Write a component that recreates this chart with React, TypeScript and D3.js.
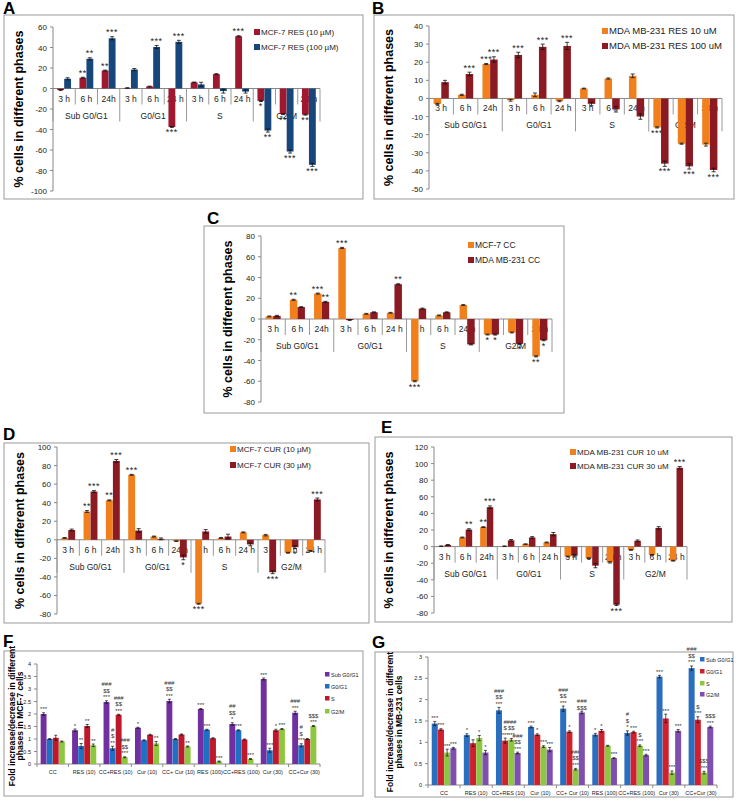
import React from "react";
import * as d3 from "d3";

// panels A-E: 4 phases x 3 time points, two treatments each
const phases = ["Sub G0/G1", "G0/G1", "S", "G2/M"];
const times = ["3 h", "6 h", "24h", "3 h", "6 h", "24 h", "3 h", "6 h", "24 h", "3 h", "6 h", "24 h"];

// A - MCF-7 resveratrol
const aRes10 = [-1.5, 10.5, 17.5, 0.5, 2, -37.5, 6, 14, 51, -12, -25, -25.5];
const aRes100 = [9.5, 29, 49, 18.5, 40.5, 45.5, 4, -2.5, -3, -41, -61.5, -74.5];
const aErr10 = [0.5, 0.5, 0.5, 0.3, 0.3, 0.5, 0.3, 0.5, 0.5, 0.5, 0.5, 0.5];
const aErr100 = [1, 1, 1.5, 1, 1.5, 1.5, 2, 2, 1.5, 1.5, 1.5, 1.5];
const aStars10 = ["", "**", "**", "", "", "***", "", "", "***", "*", "**", "**"];
const aStars100 = ["", "**", "***", "", "***", "***", "", "", "", "**", "***", "***"];

// B - MDA MB-231 resveratrol
const bRes10 = [-3, 2, 19, -1, 2, -1.5, 5.5, 11, 12.5, -16, -25, -25.5];
const bRes100 = [9, 13.5, 21.5, 24, 28.5, 29, -3, -6, -10, -36, -37.5, -39.5];
const bErr10 = [0.3, 0.3, 0.3, 0.5, 1, 0.3, 0.2, 0.3, 1, 0.3, 0.3, 0.8];
const bErr100 = [1, 1, 1.5, 1.5, 1.5, 2, 1, 1.5, 1.5, 1.5, 1.5, 1];
const bStars10 = ["", "", "***", "", "", "", "", "", "", "***", "", ""];
const bStars100 = ["", "***", "***", "***", "***", "***", "", "", "", "***", "***", "***"];

// C - cell-cycle controls
const cMcf = [2.5, 18.5, 24.5, 68.5, 5, 6, -60, 3.5, 13.5, -15, -13, -36];
const cMda = [3, 11.5, 16.5, -1, 6.5, 33.5, 10, 6.5, -24.5, -15, -24, -20.5];
const cErrMcf = [0.4, 0.5, 0.5, 0.5, 0.4, 0.4, 0.5, 0.4, 0.4, 0.4, 0.4, 0.5];
const cErrMda = [0.5, 0.4, 0.5, 0.4, 0.4, 0.5, 0.5, 0.4, 0.5, 0.5, 0.5, 0.5];
const cStarsMcf = ["", "**", "***", "***", "", "", "***", "", "", "*", "", "**"];
const cStarsMda = ["", "", "**", "", "", "**", "", "", "", "*", "*", "*"];

// D - MCF-7 curcumin
const dCur10 = [2, 30.5, 42.5, 70, 3.5, -1.5, -69, 2, 8, 5, -14, -12];
const dCur30 = [10.5, 52, 85, 10, 1, -19, 9, 3.5, -5, -35, -8, 43.5];
const dErr10 = [0.5, 1, 0.5, 0.5, 0.5, 0.3, 0.5, 0.5, 0.5, 0.8, 0.5, 0.5];
const dErr30 = [1, 1, 1.5, 2, 1, 2.5, 2, 2.5, 1.5, 1.5, 1.5, 1.5];
const dStars10 = ["", "**", "**", "***", "", "", "***", "", "", "", "", ""];
const dStars30 = ["", "***", "***", "", "", "*", "", "", "", "***", "*", "***"];

// E - MDA MB-231 curcumin
const eCur10 = [0.5, 11, 23.5, 0.5, 3, 5, -12, -14, -19, -4, -10, -17];
const eCur30 = [2, 20.5, 47.5, 7.5, 11, 15, -11, -23, -70, 7, 22.5, 95];
const eErr10 = [0.3, 0.5, 0.5, 0.3, 0.3, 0.5, 0.5, 0.5, 0.8, 0.5, 0.5, 0.5];
const eErr30 = [0.5, 1, 1.5, 1, 1, 2, 1.5, 2.5, 1, 1, 1.5, 1.5];
const eStars10 = ["", "", "**", "", "", "", "", "", "", "", "", ""];
const eStars30 = ["", "**", "***", "", "", "", "", "", "***", "", "", "***"];

// F, G - fold change
const treatments = ["CC", "RES (10)", "CC+RES (10)", "Cur (10)", "CC+ Cur (10)", "RES (100)", "CC+RES (100)", "Cur (30)", "CC+Cur (30)"];
const foldSeries = ["Sub G0/G1", "G0/G1", "S", "G2/M"];

const fSub = [2.0, 1.35, 2.48, 1.45, 2.52, 2.2, 1.6, 3.4, 2.05];
const fG0 = [1.0, 0.72, 0.63, 0.95, 1.0, 1.37, 1.35, 0.55, 0.75];
const fS = [1.05, 1.52, 1.97, 1.17, 1.18, 1.03, 0.98, 1.35, 1.0];
const fG2 = [0.9, 0.75, 0.27, 0.82, 0.7, 0.1, 0.2, 1.4, 1.52];
const fErrSub = [0.05, 0.05, 0.05, 0.02, 0.07, 0.02, 0.05, 0.04, 0.06];
const fErrG0 = [0.02, 0.1, 0.08, 0.02, 0.02, 0.02, 0.02, 0.08, 0.06];
const fErrS = [0.1, 0.06, 0.02, 0.02, 0.02, 0.02, 0.02, 0.04, 0.02];
const fErrG2 = [0.02, 0.05, 0.02, 0.08, 0.02, 0.02, 0.02, 0.02, 0.02];
const fNoteSub = ["***", "*", "###|$$|***", "*", "###|$$|***", "***", "##|$$|*", "***", "###|***"];
const fNoteG0 = ["", "**", "#|$|**", "", "", "***", "***", "***", "#|$|***"];
const fNoteS = ["", "**", "###|$$|***", "", "", "", "", "*", ""];
const fNoteG2 = ["", "**", "###|$$|***", "**", "**", "***", "***", "***", "$$$|***"];

const gSub = [1.44, 1.17, 1.75, 1.36, 1.79, 1.18, 1.22, 2.54, 2.74];
const gG0 = [1.3, 0.98, 1.04, 1.18, 1.25, 1.27, 1.24, 1.56, 1.53];
const gS = [0.76, 1.1, 1.06, 0.9, 0.37, 0.92, 0.92, 0.29, 0.29];
const gG2 = [0.86, 0.76, 0.75, 0.83, 1.7, 0.63, 0.7, 1.27, 1.36];
const gErrSub = [0.05, 0.03, 0.07, 0.02, 0.06, 0.03, 0.05, 0.03, 0.05];
const gErrG0 = [0.02, 0.08, 0.06, 0.02, 0.02, 0.03, 0.02, 0.1, 0.07];
const gErrS = [0.08, 0.06, 0.03, 0.02, 0.02, 0.01, 0.02, 0.04, 0.03];
const gErrG2 = [0.02, 0.05, 0.02, 0.05, 0.03, 0.01, 0.02, 0.03, 0.02];
const gNoteSub = ["***", "*", "###|$$|***", "***", "###|$$|***", "*", "#|$|*", "***", "###|$$|***"];
const gNoteG0 = ["***", "", "#|$|***", "*", "*", "*", "***", "***", "$|***"];
const gNoteS = ["***", "*", "###|$$|***", "***", "###|$$|***", "", "$|***", "***", "$$$|***"];
const gNoteG2 = ["***", "*", "###|$$|***", "***", "###|$$$", "***", "***", "***", "$$$|***"];

const FONT = "'Liberation Sans', Arial, sans-serif";

type PhaseProps = {
  label: string; lx: number; ly: number;
  box: [number, number, number, number];
  x0: number; x1: number; yTop: number; yBot: number;
  domain: [number, number]; step: number;
  s1: number[]; s2: number[]; e1: number[]; e2: number[];
  st1: string[]; st2: string[];
  c1: string; c2: string; n1: string; n2: string;
  legX: number; legY: number[]; legFont: number;
  ylabX: number;
};

function PhasePanel(p: PhaseProps) {
  const y = d3.scaleLinear().domain(p.domain).range([p.yBot, p.yTop]);
  const x = d3.scaleBand<number>().domain(d3.range(12)).range([p.x0, p.x1]);
  const inner = d3.scaleBand<number>().domain([0, 1]).range([0, x.bandwidth()]).paddingOuter(0.6).paddingInner(0.02);
  const ticks = d3.range(p.domain[0], p.domain[1] + p.step / 2, p.step);
  const z = y(0);
  const bw = x.bandwidth();
  const series = [
    { v: p.s1, e: p.e1, st: p.st1, c: p.c1, k: 0 },
    { v: p.s2, e: p.e2, st: p.st2, c: p.c2, k: 1 },
  ];
  const [bx, by, bwid, bh] = p.box;
  return (
    <g fontFamily={FONT}>
      <text x={p.lx} y={p.ly} fontSize={17} fontWeight="bold">{p.label}</text>
      <rect x={bx} y={by} width={bwid} height={bh} fill="#fff" stroke="#9a9a9a" strokeWidth={1} />
      <line x1={p.x0} x2={p.x0} y1={p.yTop} y2={p.yBot} stroke="#888" />
      {ticks.map((t) => (
        <g key={t}>
          <line x1={p.x0 - 3} x2={p.x0} y1={y(t)} y2={y(t)} stroke="#888" />
          <text x={p.x0 - 6} y={y(t) + 3} fontSize={8} textAnchor="end" fill="#222">{t}</text>
        </g>
      ))}
      <text transform={`translate(${p.ylabX},${(p.yTop + p.yBot) / 2}) rotate(-90)`} fontSize={12.5} fontWeight="bold" textAnchor="middle">% cells in different phases</text>
      {/* category axis labels first, bars sit on top of them */}
      {times.map((t, i) => (
        <text key={i} x={(x(i) as number) + bw / 2} y={z + 13} fontSize={8.5} textAnchor="middle" fill="#222">{t}</text>
      ))}
      {phases.map((ph, i) => (
        <text key={ph} x={(x(i * 3) as number) + bw * 1.5} y={z + 30} fontSize={8.5} textAnchor="middle" fill="#222">{ph}</text>
      ))}
      {d3.range(13).map((i) => {
        const xx = p.x0 + i * bw;
        return <line key={i} x1={xx} x2={xx} y1={z} y2={z + (i % 3 === 0 ? 33 : 16)} stroke="#999" />;
      })}
      <line x1={p.x0} x2={p.x1} y1={z} y2={z} stroke="#888" />
      {series.map((s) =>
        s.v.map((v, i) => {
          const bxx = (x(i) as number) + (inner(s.k) as number);
          const w = inner.bandwidth();
          const cx = bxx + w / 2;
          const tip = v >= 0 ? v + s.e[i] : v - s.e[i];
          return (
            <g key={`${s.k}-${i}`}>
              <rect x={bxx} y={Math.min(y(v), z)} width={w} height={Math.abs(y(v) - z)} fill={s.c} />
              <line x1={cx} x2={cx} y1={y(v - s.e[i])} y2={y(v + s.e[i])} stroke="#111" strokeWidth={0.8} />
              <line x1={cx - 2} x2={cx + 2} y1={y(v + s.e[i])} y2={y(v + s.e[i])} stroke="#111" strokeWidth={0.8} />
              <line x1={cx - 2} x2={cx + 2} y1={y(v - s.e[i])} y2={y(v - s.e[i])} stroke="#111" strokeWidth={0.8} />
              {s.st[i] && (
                <text x={cx} y={v >= 0 ? y(tip) - 1.5 : y(tip) + 8} fontSize={9} textAnchor="middle" letterSpacing={0.5} fill="#222">{s.st[i]}</text>
              )}
            </g>
          );
        })
      )}
      {[p.n1, p.n2].map((n, i) => (
        <g key={n}>
          <rect x={p.legX} y={p.legY[i] - 4} width={6} height={6} fill={i === 0 ? p.c1 : p.c2} />
          <text x={p.legX + 7} y={p.legY[i] + 2} fontSize={p.legFont} fill="#222">{n}</text>
        </g>
      ))}
    </g>
  );
}

type FoldProps = {
  label: string; lx: number; ly: number;
  box: [number, number, number, number];
  x0: number; x1: number; yTop: number; yBot: number; max: number;
  vals: number[][]; errs: number[][]; notes: string[][]; colors: string[];
  legX: number; legY: number[];
  ylab: string[]; ylabX: number[]; ylabY: number;
};

function FoldPanel(p: FoldProps) {
  const y = d3.scaleLinear().domain([0, p.max]).range([p.yBot, p.yTop]);
  const x = d3.scaleBand<number>().domain(d3.range(treatments.length)).range([p.x0, p.x1]);
  const inner = d3.scaleBand<number>().domain(d3.range(4)).range([0, x.bandwidth()]).paddingOuter(0.6).paddingInner(0.03);
  const ticks = d3.range(0, p.max + 0.25, 0.5);
  const [bx, by, bwid, bh] = p.box;
  const z = y(0);
  return (
    <g fontFamily={FONT}>
      <text x={p.lx} y={p.ly} fontSize={17} fontWeight="bold">{p.label}</text>
      <rect x={bx} y={by} width={bwid} height={bh} fill="#fff" stroke="#9a9a9a" strokeWidth={1} />
      <line x1={p.x0} x2={p.x0} y1={p.yTop} y2={p.yBot} stroke="#888" />
      {ticks.map((t) => (
        <g key={t}>
          <line x1={p.x0 - 3} x2={p.x0} y1={y(t)} y2={y(t)} stroke="#888" />
          <text x={p.x0 - 6} y={y(t) + 2} fontSize={5.5} textAnchor="end" fill="#222">{t}</text>
        </g>
      ))}
      <line x1={p.x0} x2={p.x1} y1={z} y2={z} stroke="#888" />
      {d3.range(treatments.length + 1).map((i) => {
        const xx = p.x0 + i * x.bandwidth();
        return <line key={i} x1={xx} x2={xx} y1={z} y2={z + 3} stroke="#888" />;
      })}
      {treatments.map((t, i) => (
        <text key={t} x={(x(i) as number) + x.bandwidth() / 2} y={z + 10} fontSize={5.5} textAnchor="middle" fill="#222">{t}</text>
      ))}
      {p.ylab.map((l, i) => (
        <text key={l} transform={`translate(${p.ylabX[i]},${p.ylabY}) rotate(-90)`} fontSize={8.5} fontWeight="bold" textAnchor="middle">{l}</text>
      ))}
      {p.vals.map((vs, k) =>
        vs.map((v, i) => {
          const bxx = (x(i) as number) + (inner(k) as number);
          const w = inner.bandwidth();
          const cx = bxx + w / 2;
          const e = p.errs[k][i];
          const lines = p.notes[k][i] ? p.notes[k][i].split("|").reverse() : [];
          return (
            <g key={`${k}-${i}`}>
              <rect x={bxx} y={y(v)} width={w} height={z - y(v)} fill={p.colors[k]} />
              <line x1={cx} x2={cx} y1={y(v - e)} y2={y(v + e)} stroke="#111" strokeWidth={0.7} />
              <line x1={cx - 1.5} x2={cx + 1.5} y1={y(v + e)} y2={y(v + e)} stroke="#111" strokeWidth={0.7} />
              <line x1={cx - 1.5} x2={cx + 1.5} y1={y(v - e)} y2={y(v - e)} stroke="#111" strokeWidth={0.7} />
              {lines.map((l, j) => (
                <text key={j} x={cx} y={y(v + e) - 1.5 - j * 6.5} fontSize={6} textAnchor="middle" fill="#333">{l}</text>
              ))}
            </g>
          );
        })
      )}
      {foldSeries.map((n, i) => (
        <g key={n}>
          <rect x={p.legX} y={p.legY[i] - 3} width={4.5} height={4.5} fill={p.colors[i]} />
          <text x={p.legX + 6} y={p.legY[i] + 1.5} fontSize={5.5} fill="#222">{n}</text>
        </g>
      ))}
    </g>
  );
}

export default function App() {
  return (
    <svg width={738} height={803} style={{ position: "absolute", left: 0, top: 0, background: "#fff" }}>
      <PhasePanel label="A" lx={3} ly={14} box={[4, 15, 359, 184]} x0={53} x1={320} yTop={27} yBot={191}
        domain={[-100, 60]} step={20} s1={aRes10} s2={aRes100} e1={aErr10} e2={aErr100} st1={aStars10} st2={aStars100}
        c1="#A01830" c2="#17467A" n1="MCF-7 RES (10 µM)" n2="MCF-7 RES (100 µM)" legX={254} legY={[33, 48]} legFont={8} ylabX={23} />
      <PhasePanel label="B" lx={372} ly={14} box={[374, 15, 360, 184]} x0={429} x1={722} yTop={26} yBot={189}
        domain={[-50, 40]} step={10} s1={bRes10} s2={bRes100} e1={bErr10} e2={bErr100} st1={bStars10} st2={bStars100}
        c1="#F07F1C" c2="#8B1A22" n1="MDA MB-231 RES 10 uM" n2="MDA MB-231 RES 100 uM" legX={602} legY={[32, 47]} legFont={9.5} ylabX={393} />
      <PhasePanel label="C" lx={207} ly={224} box={[204, 226, 360, 187]} x0={261} x1={552} yTop={236} yBot={402}
        domain={[-80, 80]} step={20} s1={cMcf} s2={cMda} e1={cErrMcf} e2={cErrMda} st1={cStarsMcf} st2={cStarsMda}
        c1="#F07F1C" c2="#8B1A22" n1="MCF-7 CC" n2="MDA MB-231 CC" legX={468} legY={[246, 261]} legFont={8.5} ylabX={232} />
      <PhasePanel label="D" lx={3} ly={440} box={[4, 443, 365, 180]} x0={57} x1={325} yTop={447} yBot={614}
        domain={[-80, 100]} step={20} s1={dCur10} s2={dCur30} e1={dErr10} e2={dErr30} st1={dStars10} st2={dStars30}
        c1="#F07F1C" c2="#8B1A22" n1="MCF-7 CUR (10 µM)" n2="MCF-7 CUR (30 µM)" legX={230} legY={[450, 466]} legFont={8} ylabX={24} />
      <PhasePanel label="E" lx={381} ly={433} box={[375, 437, 357, 185]} x0={434} x1={687} yTop={447} yBot={613}
        domain={[-80, 120]} step={20} s1={eCur10} s2={eCur30} e1={eErr10} e2={eErr30} st1={eStars10} st2={eStars30}
        c1="#F07F1C" c2="#8B1A22" n1="MDA MB-231 CUR 10 uM" n2="MDA MB-231 CUR 30 uM" legX={570} legY={[453, 467]} legFont={8} ylabX={393} />
      <FoldPanel label="F" lx={3} ly={647} box={[4, 651, 359, 145]} x0={37} x1={320} yTop={664} yBot={764} max={4}
        vals={[fSub, fG0, fS, fG2]} errs={[fErrSub, fErrG0, fErrS, fErrG2]} notes={[fNoteSub, fNoteG0, fNoteS, fNoteG2]}
        colors={["#7030A0", "#1F6FC5", "#C0182A", "#8DC63F"]} legX={325} legY={[675, 687, 699, 712]}
        ylab={["Fold increase/decrease in different", "phases in MCF-7 cells"]} ylabX={[15, 23]} ylabY={716} />
      <FoldPanel label="G" lx={372} ly={648} box={[375, 652, 358, 145]} x0={428} x1={717} yTop={657} yBot={785} max={3}
        vals={[gSub, gG0, gS, gG2]} errs={[gErrSub, gErrG0, gErrS, gErrG2]} notes={[gNoteSub, gNoteG0, gNoteS, gNoteG2]}
        colors={["#2A6EC0", "#D0202E", "#8DC63F", "#7F4FAF"]} legX={700} legY={[660, 672, 684, 695]}
        ylab={["Fold increase/decrease in different", "phases in MB-231 cells"]} ylabX={[393, 402]} ylabY={722} />
    </svg>
  );
}
